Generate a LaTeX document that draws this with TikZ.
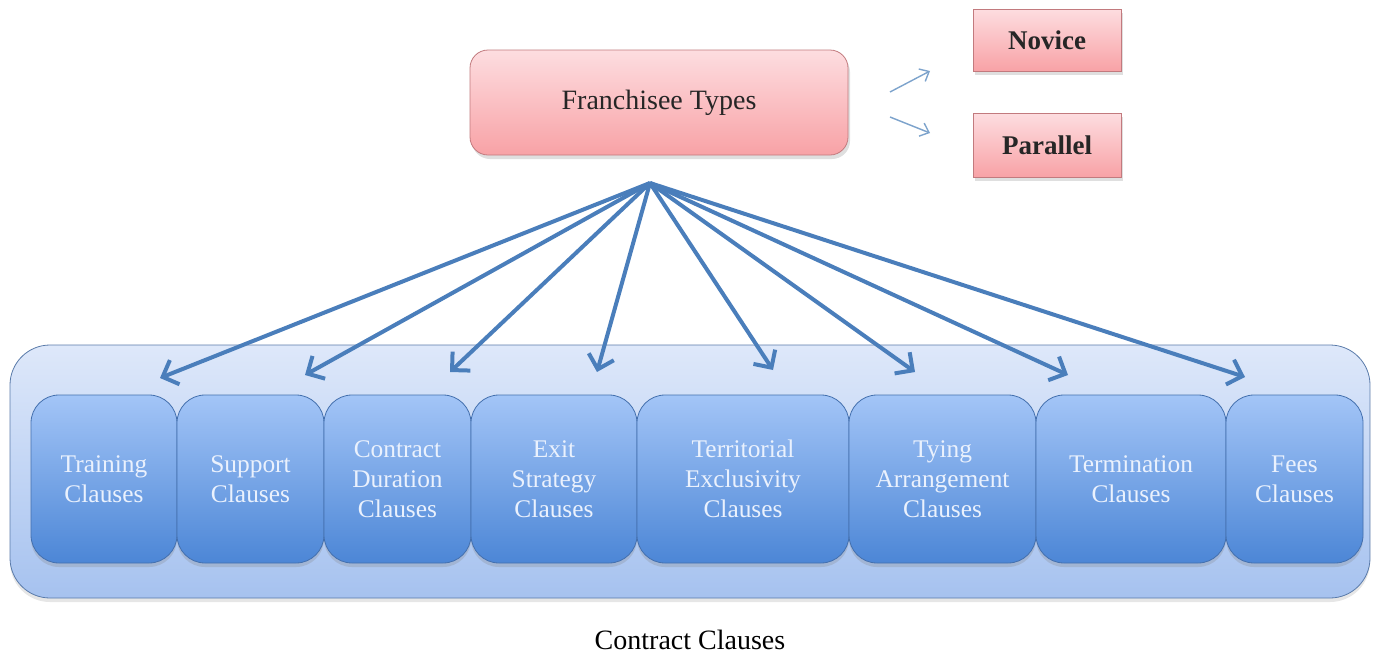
\documentclass[tikz,border=0pt]{standalone}
\usepackage{fontspec}
\setmainfont{Liberation Serif}
\usetikzlibrary{arrows.meta, shadows}

\definecolor{pinktop}{HTML}{FDDDE0}
\definecolor{pinkbot}{HTML}{F8A2A6}
\definecolor{pinkline}{HTML}{C27A7E}
\definecolor{paneltop}{HTML}{DEE8FA}
\definecolor{panelbot}{HTML}{A6C2EF}
\definecolor{panelline}{HTML}{5A7BAA}
\definecolor{clausetop}{HTML}{A3C5F7}
\definecolor{clausebot}{HTML}{4C86D6}
\definecolor{clauseline}{HTML}{4470AE}
\definecolor{clausetext}{HTML}{EAF1FD}
\definecolor{linkblue}{HTML}{4A7EBB}
\definecolor{smallblue}{HTML}{7DA3CC}

\tikzset{
  typebox/.style={draw=pinkline, top color=pinktop, bottom color=pinkbot,
    text=black!85, font=\fontsize{14}{16}\selectfont,
    drop shadow={opacity=0.25, shadow xshift=1pt, shadow yshift=-2pt}},
  clause/.style={draw=clauseline, top color=clausetop, bottom color=clausebot,
    rounded corners=14pt, minimum height=84pt, align=center, text=clausetext,
    font=\fontsize{12.7}{15}\selectfont,
    drop shadow={opacity=0.25, shadow xshift=0pt, shadow yshift=-2pt}},
  link/.style={linkblue, line width=2pt, -{Straight Barb[length=6.5pt, width=13pt]}},
  smalllink/.style={smallblue, line width=0.7pt, -{Straight Barb[length=4pt, width=7pt]}}
}

\begin{document}
\begin{tikzpicture}[x=0.5pt, y=-0.5pt]
	\useasboundingbox (0,0) rectangle (1380,659);

	% container of all clauses
	\node[draw=panelline, top color=paneltop, bottom color=panelbot, rounded corners=20pt,
	      minimum width=680pt, minimum height=126.5pt,
	      drop shadow={opacity=0.2, shadow xshift=0pt, shadow yshift=-2pt}] (panel) at (690,471.5) {};

	% franchisee side
	\node[typebox, rounded corners=9pt, minimum width=189pt, minimum height=52.5pt] (types) at (659,102.5) {Franchisee Types};
	\node[typebox, font=\fontsize{13.5}{16}\selectfont\bfseries, minimum width=74pt, minimum height=31pt] (novice) at (1047,40) {Novice};
	\node[typebox, font=\fontsize{13.5}{16}\selectfont\bfseries, minimum width=74pt, minimum height=32pt] (parallel) at (1047,145) {Parallel};

	\coordinate (n0) at (890,92);
	\coordinate (n1) at (930,71);
	\coordinate (p0) at (890,117);
	\coordinate (p1) at (930,133);
	\draw[smalllink] (n0) -- (n1);
	\draw[smalllink] (p0) -- (p1);

	% clauses
	\node[clause, minimum width=73pt] (training) at (104,479) {Training\\Clauses};
	\node[clause, minimum width=73.5pt] (support) at (250.5,479) {Support\\Clauses};
	\node[clause, minimum width=73.5pt] (duration) at (397.5,479) {Contract\\Duration\\Clauses};
	\node[clause, minimum width=83pt] (exit) at (554,479) {Exit\\Strategy\\Clauses};
	\node[clause, minimum width=106pt] (territory) at (743,479) {Territorial\\Exclusivity\\Clauses};
	\node[clause, minimum width=93.5pt] (tying) at (942.5,479) {Tying\\Arrangement\\Clauses};
	\node[clause, minimum width=95pt] (termination) at (1131,479) {Termination\\Clauses};
	\node[clause, minimum width=68.5pt] (fees) at (1294.5,479) {Fees\\Clauses};

	\node[font=\fontsize{14}{16}\selectfont] (title) at (690,640) {Contract Clauses};

	% arrows from the types down to the clauses
	\coordinate (hub) at (650,183);
	\coordinate (a1) at (160,378);
	\coordinate (a2) at (305,375);
	\coordinate (a3) at (450,372);
	\coordinate (a4) at (597,372);
	\coordinate (a5) at (773,370);
	\coordinate (a6) at (915,372);
	\coordinate (a7) at (1068,375);
	\coordinate (a8) at (1245,377);
	\draw[link] (hub) -- (a1);
	\draw[link] (hub) -- (a2);
	\draw[link] (hub) -- (a3);
	\draw[link] (hub) -- (a4);
	\draw[link] (hub) -- (a5);
	\draw[link] (hub) -- (a6);
	\draw[link] (hub) -- (a7);
	\draw[link] (hub) -- (a8);
\end{tikzpicture}
\end{document}
